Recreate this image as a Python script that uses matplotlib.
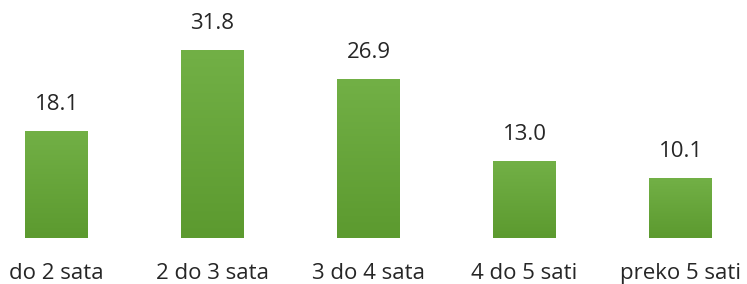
import numpy as np
import matplotlib.pyplot as plt
import matplotlib as mpl

params = {
    'font.family': ['Open Sans', 'DejaVu Sans'],
    'font.size': 16,
}
mpl.rcParams.update(params)

categories = ['do 2 sata', '2 do 3 sata', '3 do 4 sata', '4 do 5 sati', 'preko 5 sati']
values = [18.1, 31.8, 26.9, 13.0, 10.1]

fig = plt.figure(figsize=(7.47, 2.84), dpi=100)
# axes extends a bit past the picture edges (the original is cropped)
ax = fig.add_axes([-21.5 / 747, 46 / 284, 780 / 747, 238 / 284])

x = np.arange(len(categories))
bars = ax.bar(x, values, width=0.4, color='#68a83c', zorder=2)

# soft top-to-bottom gradient on each bar
grad = np.linspace(0, 1, 100).reshape(-1, 1)
cmap = mpl.colors.LinearSegmentedColormap.from_list('g', ['#5c9a2f', '#72b046'])
for b in bars:
    im = ax.imshow(grad, cmap=cmap, aspect='auto', origin='lower',
                   extent=[b.get_x(), b.get_x() + b.get_width(), 0, b.get_height()],
                   zorder=3)
    im.set_clip_path(b)

for xi, v in zip(x, values):
    ax.annotate('{:.1f}'.format(v), (xi, v), xytext=(0, 11.5), textcoords='offset points',
                ha='center', va='bottom', color='#262626')

ax.set_xlim(-0.5, len(categories) - 0.5)
ax.set_ylim(0, 238 / 5.912)
ax.set_xticks(x)
ax.set_xticklabels(categories, color='#262626')
ax.tick_params(axis='x', length=0, pad=18)
ax.set_yticks([])
for s in ax.spines.values():
    s.set_visible(False)

fig.savefig('out.png', dpi=100)
